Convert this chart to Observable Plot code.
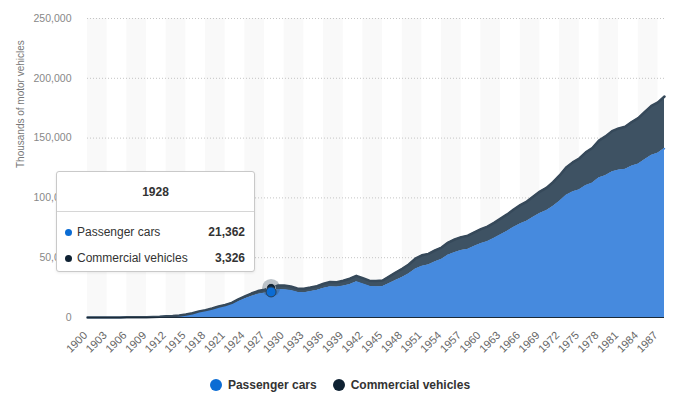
<!DOCTYPE html>
<html><head><meta charset="utf-8">
<script src="https://cdn.jsdelivr.net/npm/d3@7"></script>
<script src="https://cdn.jsdelivr.net/npm/@observablehq/plot@0.6"></script>
<style>
body{margin:0;background:#fff;font-family:"Liberation Sans",Arial,sans-serif;}
#wrap{position:relative;width:680px;height:414px;overflow:hidden;}
#legend{position:absolute;left:0;top:378px;width:680px;display:flex;justify-content:center;align-items:center;gap:16px;font-weight:bold;font-size:12px;color:#333;}
#legend .it{display:flex;align-items:center;gap:6px;}
#legend .sw{width:12px;height:12px;border-radius:50%;display:inline-block;}
#tip{position:absolute;left:56px;top:171px;width:197px;height:99px;background:#fff;border:1px solid #c9c9c9;border-radius:3px;box-shadow:0 1px 3px rgba(0,0,0,0.08);font-size:12px;color:#333;}
#tip .t{position:absolute;left:0;right:0;top:13px;text-align:center;font-weight:bold;}
#tip .sep{position:absolute;left:0;right:0;top:39px;border-top:1px solid #d6d6d6;}
#tip .row{position:absolute;left:8px;right:9px;display:flex;align-items:center;}
#tip .row .d{width:7px;height:7px;border-radius:50%;margin-right:5px;}
#tip .row .v{margin-left:auto;font-weight:bold;}
</style></head><body>
<div id="wrap"></div>
<script>
const years = [1900,1901,1902,1903,1904,1905,1906,1907,1908,1909,1910,1911,1912,1913,1914,1915,1916,1917,1918,1919,1920,1921,1922,1923,1924,1925,1926,1927,1928,1929,1930,1931,1932,1933,1934,1935,1936,1937,1938,1939,1940,1941,1942,1943,1944,1945,1946,1947,1948,1949,1950,1951,1952,1953,1954,1955,1956,1957,1958,1959,1960,1961,1962,1963,1964,1965,1966,1967,1968,1969,1970,1971,1972,1973,1974,1975,1976,1977,1978,1979,1980,1981,1982,1983,1984,1985,1986,1987,1988];
const passengerCars = [8,15,23,33,54,77,106,140,194,306,458,619,902,1190,1664,2332,3368,4727,5555,6679,8131,9213,10704,13253,15436,17481,19237,20219,21362,23121,23035,22347,20832,20586,21472,22568,24183,25467,25250,26226,27466,29624,27869,25913,25466,25797,28217,30849,33355,36458,40339,42688,43823,46460,48468,52145,54211,55918,56891,59454,61682,63417,66108,69055,71983,75258,78124,80414,83718,86861,89244,92800,97082,101986,104898,106706,110189,112288,116575,118429,121601,123098,123702,126444,128158,131864,135431,137324,141252];
const commercialVehicles = [0,0,0,0,1,1,2,3,4,6,10,21,42,68,99,159,250,392,605,898,1108,1282,1570,1849,2177,2569,2850,3077,3326,3552,3715,3600,3400,3460,3600,3676,4000,4250,4250,4480,4987,5200,5000,4900,4960,5117,6000,6800,7400,7900,8823,9300,9400,9700,10000,10544,11000,11300,11500,11800,12186,12500,13000,13600,14200,15100,15800,16500,17400,18400,19175,20300,21700,23500,24800,26234,27900,29400,31300,33000,34193,35000,35800,37000,38600,40100,41500,42500,43500];
const xTicks = [1900,1903,1906,1909,1912,1915,1918,1921,1924,1927,1930,1933,1936,1939,1942,1945,1948,1951,1954,1957,1960,1963,1966,1969,1972,1975,1978,1981,1984,1987];
const yTicks = [0,50000,100000,150000,200000,250000];
const seriesNames = ["Passenger cars","Commercial vehicles"];
const highlightYear = 1928;

const BLUE = "#468ade", BLUE_DOT = "#0b6cd4", DARK = "#3e5263", DARK_DOT = "#0f2233";

const rows = years.map((y,i)=>({year:y, pc:passengerCars[i], total:passengerCars[i]+commercialVehicles[i]}));
const lastYear = years[years.length-1];
const bandStarts = xTicks.filter((d,i)=>i%2===0);
const hi = rows.filter(r=>r.year===highlightYear);

const chart = Plot.plot({
  width:680, height:370,
  marginLeft:87, marginRight:16, marginTop:18, marginBottom:53,
  style:{fontFamily:'"Liberation Sans",Arial,sans-serif', background:"#fff"},
  x:{type:"linear", domain:[1900,lastYear]},
  y:{domain:[0,250000]},
  marks:[
    Plot.rect(bandStarts,{x1:d=>d, x2:d=>Math.min(d+3,lastYear), y1:0, y2:250000, fill:"#f9f9f9"}),
    Plot.ruleY(yTicks.filter(d=>d>0),{stroke:"#c4c4c4", strokeDasharray:"1,2"}),
    Plot.areaY(rows,{x:"year", y1:0, y2:"pc", fill:BLUE}),
    Plot.areaY(rows,{x:"year", y1:"pc", y2:"total", fill:DARK}),
    Plot.lineY(rows,{x:"year", y:"pc", stroke:BLUE, strokeWidth:1.5}),
    Plot.lineY(rows,{x:"year", y:"total", stroke:"#36495a", strokeWidth:2.5}),
    Plot.ruleY([0],{stroke:"#1b2a38", strokeWidth:1.2}),
    Plot.axisY(yTicks,{tickSize:0, tickPadding:16, tickFormat:d3.format(","), fontSize:10.5, fill:"#888"}),
    Plot.axisX(xTicks,{tickSize:0, tickRotate:-45, tickPadding:16, dx:-2, tickFormat:d=>String(d), fontSize:11, fill:"#666", label:null}),
    Plot.text(["Thousands of motor vehicles"],{frameAnchor:"left", rotate:-90, dx:-67, fontSize:10, fill:"#777"}),
    Plot.dot(hi,{x:"year", y:"total", r:9, fill:"#3e5263", fillOpacity:0.35}),
    Plot.dot(hi,{x:"year", y:"total", r:4.5, fill:DARK_DOT, stroke:"#fff", strokeWidth:0.5}),
    Plot.dot(hi,{x:"year", y:"pc", r:5, fill:BLUE_DOT, stroke:"#24415e", strokeWidth:1})
  ]
});
const wrap = document.getElementById("wrap");
wrap.appendChild(chart);

const fmt = d3.format(",");
const idx = years.indexOf(highlightYear);
const tip = document.createElement("div");
tip.id = "tip";
tip.innerHTML = `<div class="t">${highlightYear}</div><div class="sep"></div>
<div class="row" style="top:53px"><span class="d" style="background:${BLUE_DOT}"></span><span>${seriesNames[0]}</span><span class="v">${fmt(passengerCars[idx])}</span></div>
<div class="row" style="top:79px"><span class="d" style="background:${DARK_DOT}"></span><span>${seriesNames[1]}</span><span class="v">${fmt(commercialVehicles[idx])}</span></div>`;
wrap.appendChild(tip);

const legend = document.createElement("div");
legend.id = "legend";
legend.innerHTML = seriesNames.map((n,i)=>`<span class="it"><span class="sw" style="background:${i?DARK_DOT:BLUE_DOT}"></span>${n}</span>`).join("");
wrap.appendChild(legend);
</script>
</body></html>
